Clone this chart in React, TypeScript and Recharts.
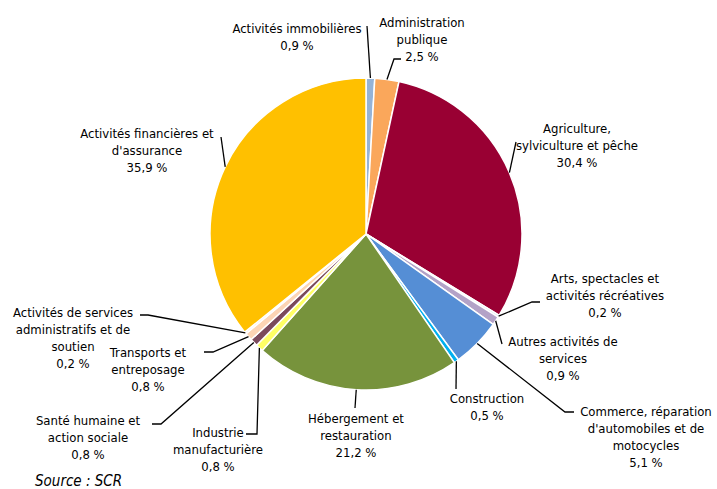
import React from 'react';
import { PieChart, Pie, Cell } from 'recharts';

const sectors = [
  'Activités immobilières',
  'Administration publique',
  'Agriculture, sylviculture et pêche',
  'Arts, spectacles et activités récréatives',
  'Autres activités de services',
  "Commerce, réparation d'automobiles et de motocycles",
  'Construction',
  'Hébergement et restauration',
  'Industrie manufacturière',
  'Santé humaine et action sociale',
  'Transports et entreposage',
  'Activités de services administratifs et de soutien',
  "Activités financières et d'assurance",
];

const shares = [0.9, 2.5, 30.4, 0.2, 0.9, 5.1, 0.5, 21.2, 0.8, 0.8, 0.8, 0.2, 35.9];

const labelLines = [
  ['Activités immobilières'],
  ['Administration', 'publique'],
  ['Agriculture,', 'sylviculture et pêche'],
  ['Arts, spectacles et', 'activités récréatives'],
  ['Autres activités de', 'services'],
  ['Commerce, réparation', "d'automobiles et de", 'motocycles'],
  ['Construction'],
  ['Hébergement et', 'restauration'],
  ['Industrie', 'manufacturière'],
  ['Santé humaine et', 'action sociale'],
  ['Transports et', 'entreposage'],
  ['Activités de services', 'administratifs et de', 'soutien'],
  ['Activités financières et', "d'assurance"],
];

const COLORS = [
  '#95B3D7', '#FAA75B', '#990033', '#C6D9F1', '#B3A2C7', '#558ED5', '#00B0F0',
  '#77933C', '#FFFF66', '#7B4A5C', '#FCD5B5', '#F2DCDB', '#FFC000',
];

// label layout: text centre x, first line y, leader elbow points
const layout = [
  { x: 297, y: 28, pts: [[367, 26]] },
  { x: 422, y: 22, pts: [[394, 59], [401, 59]] },
  { x: 577, y: 128, pts: [[516, 142]] },
  { x: 605, y: 278, pts: [[532, 302], [540, 302]] },
  { x: 563, y: 341, pts: [[502, 344]] },
  { x: 646, y: 411, pts: [[565, 412], [574, 412]] },
  { x: 487, y: 398, pts: [[456, 389]] },
  { x: 356, y: 418, pts: [[355, 408]] },
  { x: 218, y: 432, pts: [[257, 434], [246, 434]] },
  { x: 88, y: 420, pts: [[161, 424], [152, 424]] },
  { x: 148, y: 352, pts: [[213, 352], [204, 352]] },
  { x: 73, y: 312, pts: [[148, 315], [140, 315]] },
  { x: 147, y: 133, pts: [[221, 137]] },
];

const data = sectors.map((name, i) => ({ name, value: shares[i] }));

const FONT = "'DejaVu Sans Condensed', 'DejaVu Sans', sans-serif";
const RAD = Math.PI / 180;

const renderLabel = (props: any) => {
  const { cx, cy, midAngle, outerRadius, index } = props;
  const sx = cx + outerRadius * Math.cos(-midAngle * RAD);
  const sy = cy + outerRadius * Math.sin(-midAngle * RAD);
  const l = layout[index];
  const d = `M${sx},${sy}` + l.pts.map((p) => ` L${p[0]},${p[1]}`).join('');
  const lines = [...labelLines[index], `${shares[index].toFixed(1).replace('.', ',')} %`];
  return (
    <g key={`lbl-${index}`}>
      <path d={d} stroke="#000" strokeWidth={1.3} fill="none" />
      <text x={l.x} y={l.y} textAnchor="middle" fontFamily={FONT} fontSize={13} fill="#000">
        {lines.map((t, k) => (
          <tspan key={k} x={l.x} y={l.y + k * 17.3} dominantBaseline="central">
            {t}
          </tspan>
        ))}
      </text>
    </g>
  );
};

export default function App() {
  return (
    <div style={{ position: 'absolute', left: 0, top: 0, width: 717, height: 489, background: '#fff' }}>
      <PieChart width={717} height={489} margin={{ top: 0, right: 0, bottom: 0, left: 0 }}>
        <Pie
          data={data}
          dataKey="value"
          nameKey="name"
          cx={366}
          cy={234}
          outerRadius={156}
          startAngle={90}
          endAngle={-270}
          stroke="#fff"
          strokeWidth={1.5}
          label={renderLabel}
          labelLine={false}
          isAnimationActive={false}
        >
          {data.map((entry, index) => (
            <Cell key={`cell-${index}`} fill={COLORS[index]} />
          ))}
        </Pie>
        <text x={35} y={481} fontFamily={FONT} fontStyle="italic" fontSize={15} fill="#000" dominantBaseline="central">
          Source : SCR
        </text>
      </PieChart>
    </div>
  );
}
